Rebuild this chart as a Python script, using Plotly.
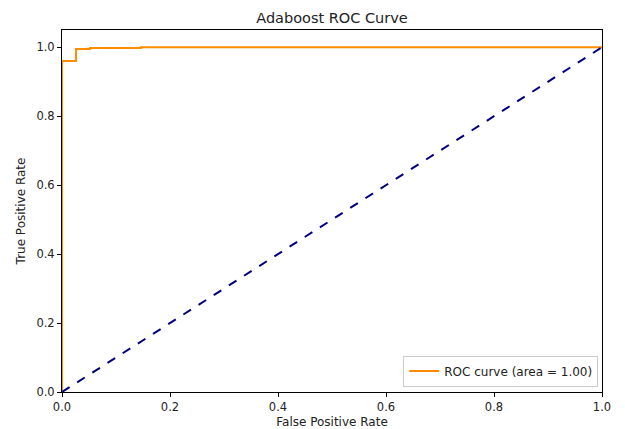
import plotly.graph_objects as go

# ROC curve points
fpr = [0.0, 0.0, 0.026, 0.026, 0.052, 0.052, 0.146, 0.146, 1.0]
tpr = [0.0, 0.96, 0.96, 0.995, 0.995, 0.998, 0.998, 1.0, 1.0]
diag_x = [0.0, 1.0]
diag_y = [0.0, 1.0]
roc_label = "ROC curve (area = 1.00)"
x_ticks = [0.0, 0.2, 0.4, 0.6, 0.8, 1.0]
y_ticks = [0.0, 0.2, 0.4, 0.6, 0.8, 1.0]

fig = go.Figure()
fig.add_trace(go.Scatter(x=fpr, y=tpr, mode="lines", name=roc_label,
                         line=dict(color="darkorange", width=2)))
fig.add_trace(go.Scatter(x=diag_x, y=diag_y, mode="lines", showlegend=False,
                         line=dict(color="navy", width=2, dash="dash")))

axis_common = dict(showgrid=False, zeroline=False, showline=True, linecolor="black",
                   linewidth=1, mirror=True, ticks="outside", ticklen=4,
                   tickcolor="black", tickfont=dict(size=11.5, color="#222"),
                   automargin=False)

fig.update_layout(
    width=625, height=429,
    margin=dict(l=54, r=31, t=22, b=45),
    paper_bgcolor="white", plot_bgcolor="white",
    font=dict(family="DejaVu Sans", color="#222"),
    title=dict(text="Adaboost ROC Curve", x=(62 + 602) / 2 / 625 - 8 / 625, xanchor="center",
               xref="container", y=1 - 10 / 429, yanchor="middle",
               font=dict(size=14.5, color="#222")),
    xaxis=dict(range=[0, 1], tickvals=x_ticks, ticktext=[f"{v:.1f}" for v in x_ticks],
               title=dict(text="False Positive Rate", font=dict(size=12), standoff=4),
               **axis_common),
    yaxis=dict(range=[0, 1.05], tickvals=y_ticks, ticktext=[f"{v:.1f}" for v in y_ticks],
               title=dict(text="True Positive Rate", font=dict(size=12), standoff=8),
               **axis_common),
    legend=dict(x=0.993, y=0.015, xanchor="right", yanchor="bottom",
                bgcolor="rgba(255,255,255,0.8)", bordercolor="#ccc", borderwidth=1,
                font=dict(size=12), itemwidth=30, tracegroupgap=0),
    showlegend=True,
)

fig.write_html("out.html")
